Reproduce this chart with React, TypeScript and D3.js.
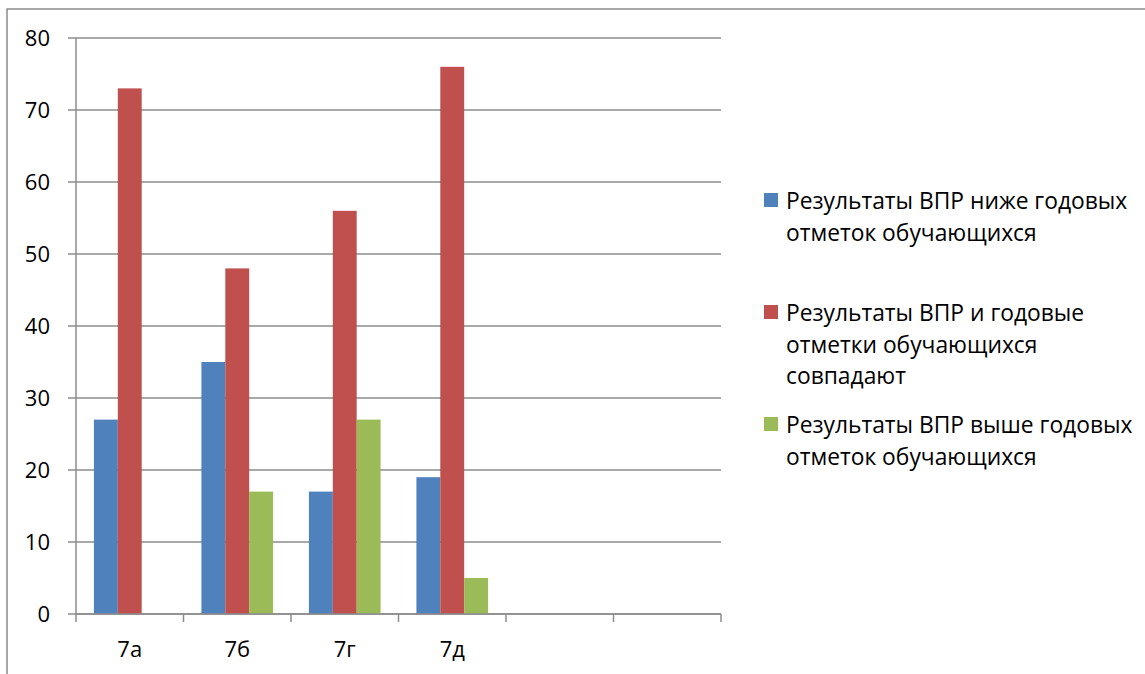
import React from "react";
import * as d3 from "d3";

const categories = ["7а", "7б", "7г", "7д", "", ""];
const seriesNames = [
  ["Результаты ВПР ниже годовых", "отметок обучающихся"],
  ["Результаты ВПР и годовые", "отметки обучающихся", "совпадают"],
  ["Результаты ВПР выше годовых", "отметок обучающихся"],
];
const belowValues = [27, 35, 17, 19, null, null];
const matchValues = [73, 48, 56, 76, null, null];
const aboveValues = [null, 17, 27, 5, null, null];
const yTicks = [0, 10, 20, 30, 40, 50, 60, 70, 80];
const colors = ["#4F81BD", "#C0504D", "#9BBB59"];

const W = 1145;
const H = 674;
const FONT = "'Open Sans', Lato, sans-serif";

export default function App() {
  const series = [belowValues, matchValues, aboveValues];
  const left = 76;
  const right = 721;
  const top = 38;
  const bottom = 614;

  const x = d3
    .scaleBand<number>()
    .domain(categories.map((_, i) => i))
    .range([left, right])
    .paddingInner(0)
    .paddingOuter(0);
  const y = d3.scaleLinear().domain([0, 80]).range([bottom, top]);
  const bw = x.bandwidth();
  const groupW = bw * (3 / 4.5);
  const barW = groupW / 3;
  const sub = d3
    .scaleBand<number>()
    .domain([0, 1, 2])
    .range([(bw - groupW) / 2, (bw + groupW) / 2]);

  const boundaries = d3.range(categories.length + 1).map((i) => left + i * bw);
  const gridColor = "#8c8c8c";

  const legendX = 764;
  const legendStart = 209;
  const entryGap = 112;
  const lineH = 31.7;

  return (
    <svg
      width={W}
      height={H}
      style={{ position: "absolute", left: 0, top: 0, background: "#fff" }}
    >
      <rect x={0} y={0} width={W} height={H} fill="#fff" />
      <rect
        x={7}
        y={9}
        width={W + 20}
        height={H + 20}
        fill="none"
        stroke="#8a8a8a"
        strokeWidth={1.5}
      />
      {yTicks.map((t) => (
        <g key={t}>
          <line
            x1={left - 8}
            x2={right}
            y1={y(t)}
            y2={y(t)}
            stroke={gridColor}
            strokeWidth={1.5}
          />
          <text
            x={50}
            y={y(t)}
            dy="0.36em"
            textAnchor="end"
            fontFamily={FONT}
            fontSize={22}
            fill="#000"
          >
            {t}
          </text>
        </g>
      ))}
      <line x1={left} x2={left} y1={top} y2={bottom} stroke={gridColor} strokeWidth={1.5} />
      {series.map((vals, si) =>
        vals.map((v, ci) =>
          v == null ? null : (
            <rect
              key={`${si}-${ci}`}
              x={(x(ci) as number) + (sub(si) as number)}
              y={y(v)}
              width={barW}
              height={y(0) - y(v)}
              fill={colors[si]}
            />
          )
        )
      )}
      <line x1={left} x2={right} y1={bottom} y2={bottom} stroke={gridColor} strokeWidth={1.5} />
      {boundaries.map((b, i) => (
        <line
          key={i}
          x1={b}
          x2={b}
          y1={bottom}
          y2={bottom + 8}
          stroke={gridColor}
          strokeWidth={1.5}
        />
      ))}
      {categories.map((c, i) => (
        <text
          key={i}
          x={(x(i) as number) + bw / 2}
          y={657}
          textAnchor="middle"
          fontFamily={FONT}
          fontSize={22}
          fill="#000"
        >
          {c}
        </text>
      ))}
      {seriesNames.map((lines, si) => {
        const base = legendStart + si * entryGap;
        return (
          <g key={si}>
            <rect x={legendX} y={base - 16} width={14} height={14} fill={colors[si]} />
            {lines.map((ln, li) => (
              <text
                key={li}
                x={legendX + 22}
                y={base + li * lineH}
                fontFamily={FONT}
                fontSize={22.8}
                fill="#000"
              >
                {ln}
              </text>
            ))}
          </g>
        );
      })}
    </svg>
  );
}
